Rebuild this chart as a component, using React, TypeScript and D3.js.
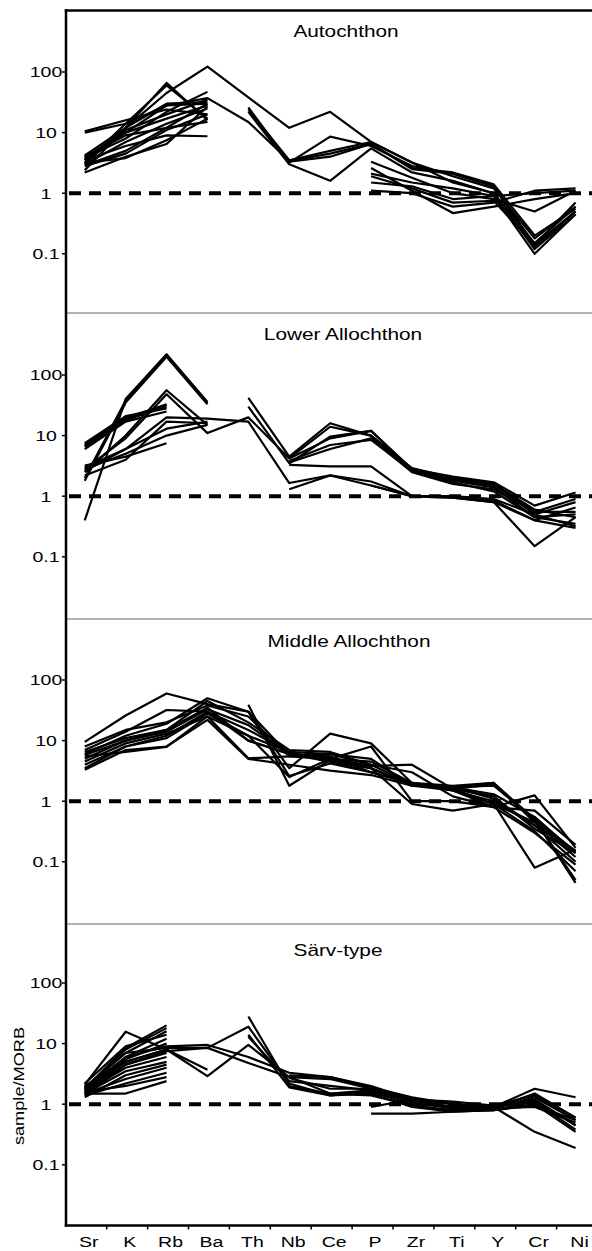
import React from 'react';
import * as d3 from 'd3';

// element order on the x axis
const elements = ['Sr', 'K', 'Rb', 'Ba', 'Th', 'Nb', 'Ce', 'P', 'Zr', 'Ti', 'Y', 'Cr', 'Ni'];
const yTickValues = [0.1, 1, 10, 100];
const yTickLabels = ['0.1', '1', '10', '100'];
const panelTitles = ['Autochthon', 'Lower Allochthon', 'Middle Allochthon', 'Särv-type'];
const yAxisTitle = 'sample/MORB';

const _ = null;

// sample/MORB values, one row per sample (null = not plotted)
const autochthon: (number | null)[][] = [
  [2.4, 12, 66, 16, _, _, _, _, _, _, _, _, _],
  [3.2, 14, 60, 17, _, _, _, _, _, _, _, _, _],
  [10, 14, 28, 30, _, _, _, _, _, _, _, _, _],
  [10.5, 16, 24, 20, _, _, _, _, _, _, _, _, _],
  [3.8, 8, 22, 47, _, _, _, _, _, _, _, _, _],
  [3.5, 10, 17, 28, _, _, _, _, _, _, _, _, _],
  [3.0, 7, 14, 25, _, _, _, _, _, _, _, _, _],
  [4.0, 9, 12, 30, _, _, _, _, _, _, _, _, _],
  [3.2, 3.8, 7.5, 17, _, _, _, _, _, _, _, _, _],
  [3.5, 6, 9, 8.7, _, _, _, _, _, _, _, _, _],
  [2.8, 4.5, 11, 20, _, _, _, _, _, _, _, _, _],
  [3.6, 11, 20, 35, _, _, _, _, _, _, _, _, _],
  [4.2, 12, 30, 32, _, _, _, _, _, _, _, _, _],
  [2.9, 5, 12, 15, _, _, _, _, _, _, _, _, _],
  [2.2, 4, 6.5, 27, _, _, _, _, _, _, _, _, _],
  [3, 12, 45, 123, 38, 12, 22, 7, 3.2, 1.5, 1.0, 0.15, 0.6],
  [4, 10, 28, 37, 15, 3.4, 4.5, 6.5, 2.5, 2.1, 1.3, 0.14, 0.5],
  [_, _, _, _, 26, 3.2, 8.6, 6, 2.8, 2.1, 1.3, 0.13, 0.5],
  [_, _, _, _, 22, 3.0, 1.6, 5.5, 2.2, 1.6, 1.0, 0.12, 0.45],
  [_, _, _, _, 24, 3.5, 5, 7, 3.2, 1.9, 1.2, 0.18, 0.6],
  [_, _, _, _, _, 3.3, 4, 6.5, 2.6, 2.2, 1.4, 0.2, 0.55],
  [_, _, _, _, _, _, _, 3.3, 1.8, 1.0, 0.8, 0.5, 1.1],
  [_, _, _, _, _, _, _, 2.1, 1.5, 1.2, 0.9, 1.0, 1.1],
  [_, _, _, _, _, _, _, 1.9, 1.2, 0.7, 0.75, 0.14, 0.7],
  [_, _, _, _, _, _, _, 1.1, 1.0, 0.6, 0.7, 1.1, 1.2],
  [_, _, _, _, _, _, _, 2.6, 1.1, 0.47, 0.6, 0.8, 1.0],
  [_, _, _, _, _, _, _, 1.5, 1.3, 0.8, 0.9, 0.1, 0.45],
];

const lowerAllochthon: (number | null)[][] = [
  [0.4, 40, 220, 36, _, _, _, _, _, _, _, _, _],
  [2.0, 38, 210, 34, _, _, _, _, _, _, _, _, _],
  [1.8, 35, 200, 33, _, _, _, _, _, _, _, _, _],
  [6.5, 18, 30, _, _, _, _, _, _, _, _, _, _],
  [7.0, 20, 32, _, _, _, _, _, _, _, _, _, _],
  [7.5, 21, 28, _, _, _, _, _, _, _, _, _, _],
  [6.0, 17, 25, _, _, _, _, _, _, _, _, _, _],
  [6.8, 19, 33, _, _, _, _, _, _, _, _, _, _],
  [2.5, 10, 56, 15, _, _, _, _, _, _, _, _, _],
  [2.8, 9, 48, 11, 20, 4.2, 9, 12, 2.8, 2.0, 1.6, 0.6, 0.45],
  [3.0, 6, 20, 19, 17, 1.65, 2.2, 1.5, 1.0, 1.0, 0.85, 0.4, 0.3],
  [3.2, 4.5, 7.5, _, _, _, _, _, _, _, _, _, _],
  [2.8, 5, 10, 15, _, _, _, _, _, _, _, _, _],
  [2.6, 6, 13, 17, _, _, _, _, _, _, _, _, _],
  [2.2, 4, 17, 16, _, _, _, _, _, _, _, _, _],
  [_, _, _, _, 42, 4.5, 16, 10, 2.9, 2.0, 1.6, 0.5, 0.8],
  [_, _, _, _, 30, 3.5, 9.6, 12, 2.7, 1.9, 1.5, 0.55, 0.55],
  [_, _, _, _, _, 3.8, 7, 8.5, 2.6, 1.8, 1.4, 0.45, 0.35],
  [_, _, _, _, _, 3.3, 3.1, 3.1, 1.0, 1.0, 0.9, 0.5, 0.32],
  [_, _, _, _, _, 1.3, 2.2, 1.75, 1.0, 0.95, 0.8, 0.15, 0.45],
  [_, _, _, _, _, 4.2, 14, 10, 2.8, 2.1, 1.7, 0.7, 1.15],
  [_, _, _, _, _, 3.6, 6, 9, 2.5, 1.6, 1.3, 0.55, 0.9],
  [_, _, _, _, _, _, _, 1.5, 1.0, 0.95, 0.8, 0.4, 0.65],
  [_, _, _, _, _, _, _, 9, 2.6, 1.7, 1.2, 0.45, 0.5],
];

const middleAllochthon: (number | null)[][] = [
  [9.5, 26, 60, 40, 30, 3.5, 13, 9, 2, 1.6, 1.9, 0.5, 0.15],
  [7, 14, 32, 30, 10, 6, 5, 4.5, 2, 1.8, 2, 0.45, 0.15],
  [6, 12, 19, 50, 30, 5.8, 5.5, 3, 1.9, 1.6, 1.2, 0.35, 0.14],
  [5, 10, 15, 35, 10, 6, 4.5, 3, 2, 1.5, 0.8, 0.3, 0.09],
  [4.5, 9, 13, 25, 5.1, 5.5, 6, 5, 1.8, 1.7, 1.1, 0.4, 0.15],
  [4, 8, 12, 30, 15, 6.5, 4.5, 3.5, 0.9, 0.7, 0.9, 0.45, 0.12],
  [3.3, 7, 8, 22, 5, 4, 3.2, 2.7, 1.8, 1.5, 0.9, 0.32, 0.07],
  [3.5, 8, 11, 28, 12, 6.5, 6, 4, 3, 1.2, 0.8, 1.25, 0.17],
  [5.5, 6.5, 7.9, 25, 12, 2.5, 5, 8, 1.0, 1.0, 0.8, 0.7, 0.19],
  [6.5, 11, 15, 45, 20, 7, 6.5, 4, 1.9, 1.7, 2, 0.5, 0.05],
  [8, 15, 20, 38, 25, 5.5, 5, 3.5, 1.8, 1.7, 1.8, 0.5, 0.045],
  [5.8, 10, 14, 33, 18, 6, 5.2, 3.8, 4, 1.6, 0.9, 0.08, 0.16],
  [_, _, _, _, 39, 1.8, 4.8, 3.5, 1.9, 1.7, 1.3, 0.55, 0.14],
  [_, _, _, _, 30, 2.6, 4.2, 3, 2, 1.5, 1, 0.4, 0.1],
];

const sarvType: (number | null)[][] = [
  [2.1, 15.7, 8, 3.7, _, _, _, _, _, _, _, _, _],
  [1.8, 8.5, 20, _, _, _, _, _, _, _, _, _, _],
  [1.7, 8, 18, _, _, _, _, _, _, _, _, _, _],
  [1.9, 7, 16, _, _, _, _, _, _, _, _, _, _],
  [1.6, 6, 12, _, _, _, _, _, _, _, _, _, _],
  [1.5, 5.5, 10, _, _, _, _, _, _, _, _, _, _],
  [1.7, 5, 8, _, _, _, _, _, _, _, _, _, _],
  [1.4, 4.5, 7, _, _, _, _, _, _, _, _, _, _],
  [1.6, 4, 6, _, _, _, _, _, _, _, _, _, _],
  [1.5, 3.5, 5, _, _, _, _, _, _, _, _, _, _],
  [1.3, 3, 4.5, _, _, _, _, _, _, _, _, _, _],
  [1.5, 2.6, 4, _, _, _, _, _, _, _, _, _, _],
  [1.4, 2.2, 3.3, _, _, _, _, _, _, _, _, _, _],
  [1.6, 2.0, 2.8, _, _, _, _, _, _, _, _, _, _],
  [1.5, 1.5, 2.4, _, _, _, _, _, _, _, _, _, _],
  [2.2, 9, 14, _, _, _, _, _, _, _, _, _, _],
  [1.8, 6, 9, 9.5, 6, 3.3, 2.8, 2.0, 1.2, 1.0, 0.9, 1.8, 1.3],
  [1.9, 7, 8.5, 8.5, 19, 2.2, 1.4, 1.6, 1.0, 0.9, 0.85, 1.5, 0.6],
  [2.0, 5, 8, 2.9, 9.5, 2.8, 2.6, 1.8, 1.1, 0.85, 0.9, 1.2, 0.45],
  [1.7, 4.5, 7.5, 8.5, 4.8, 2.8, 1.5, 1.7, 1.1, 0.9, 0.85, 1.3, 0.55],
  [_, _, _, _, 28, 2.0, 1.5, 1.4, 0.95, 0.8, 0.8, 1.1, 0.38],
  [_, _, _, _, 14, 1.9, 1.4, 1.5, 0.9, 0.75, 0.8, 0.95, 0.55],
  [_, _, _, _, 13, 2.4, 2.0, 1.7, 1.1, 0.85, 0.9, 0.35, 0.19],
  [_, _, _, _, _, _, _, 0.7, 0.7, 0.75, 0.8, 1.0, 0.35],
  [_, _, _, _, _, _, _, 0.9, 1.2, 0.9, 0.85, 0.9, 0.5],
  [_, _, _, _, _, 2.7, 1.8, 1.8, 1.2, 1.1, 0.95, 1.4, 0.6],
  [_, _, _, _, _, 3.0, 2.8, 1.9, 1.3, 1.0, 0.9, 1.15, 0.45],
];

const panelData = [autochthon, lowerAllochthon, middleAllochthon, sarvType];

// layout
const width = 592;
const height = 1251;
const axisX = 66;
const panelTops = [11.4, 314.4, 619.4, 922.4];
const panelH = 303;
const separatorsY = [313, 619, 924];
const bottomY = 1225.5;
const titleX = [346, 343, 349, 338];
const titleY = [37, 340, 647, 956];
const font = '"Liberation Sans", Arial, Helvetica, sans-serif';
const SX = 1.3; // the original lettering is horizontally stretched

const x = d3.scaleBand<string>().domain(elements).range([65.8, 65.8 + 13 * 40.9]).paddingInner(0);
const cx = (e: string) => (x(e) as number) + x.bandwidth() / 2 - 1.5;

const App = () => {
  return (
    <div style={{ position: 'absolute', left: 0, top: 0 }}>
      <svg width={width} height={height} style={{ display: 'block', background: '#fff' }} fontFamily={font}>
        <rect width={width} height={height} fill="#fff" />
        {panelData.map((rows, p) => {
          const top = panelTops[p];
          const y = d3.scaleLog().domain([0.01, 1000]).range([top + panelH, top]);
          const lineFn = d3
            .line<number | null>()
            .defined((d) => d != null)
            .x((_d, i) => cx(elements[i]))
            .y((d) => y(d as number));
          return (
            <g key={p}>
              {/* y ticks */}
              {yTickValues.map((v, i) => (
                <g key={v}>
                  <line x1={axisX - 4} x2={axisX} y1={y(v)} y2={y(v)} stroke="#000" strokeWidth={1.5} />
                  <text
                    transform={`translate(46,${y(v)}) scale(${SX},1)`}
                    textAnchor="middle"
                    dy="0.36em"
                    fontSize={15}
                    fill="#000"
                  >
                    {yTickLabels[i]}
                  </text>
                </g>
              ))}
              {/* reference line at 1 */}
              <line
                x1={axisX + 3}
                x2={width}
                y1={y(1)}
                y2={y(1)}
                stroke="#000"
                strokeWidth={4}
                strokeDasharray="12 8"
              />
              {rows.map((r, i) => (
                <path key={i} d={lineFn(r) || ''} fill="none" stroke="#000" strokeWidth={2.2} strokeLinejoin="round" />
              ))}
              <text
                transform={`translate(${titleX[p]},${titleY[p]}) scale(${SX},1)`}
                textAnchor="middle"
                fontSize={16}
                fill="#000"
              >
                {panelTitles[p]}
              </text>
            </g>
          );
        })}

        {separatorsY.map((sy) => (
          <line key={sy} x1={axisX} x2={width} y1={sy} y2={sy} stroke="#666" strokeWidth={1.2} />
        ))}

        {/* frame */}
        <line x1={axisX - 1.2} x2={width} y1={10.5} y2={10.5} stroke="#000" strokeWidth={2.5} />
        <line x1={axisX} x2={axisX} y1={9.3} y2={bottomY + 1.2} stroke="#000" strokeWidth={2.5} />
        <line x1={axisX - 1.2} x2={width} y1={bottomY} y2={bottomY} stroke="#000" strokeWidth={2.5} />

        {/* x ticks between categories */}
        {elements.slice(1).map((e) => (
          <line key={e} x1={x(e)} x2={x(e)} y1={bottomY} y2={bottomY + 4} stroke="#000" strokeWidth={1.5} />
        ))}
        {elements.map((e) => (
          <text
            key={e}
            transform={`translate(${cx(e) + 4},1247) scale(${SX},1)`}
            textAnchor="middle"
            fontSize={15}
            fill="#000"
          >
            {e}
          </text>
        ))}

        <text
          transform={`translate(24,1086) rotate(-90) scale(${SX},1)`}
          textAnchor="middle"
          fontSize={14}
          fill="#000"
        >
          {yAxisTitle}
        </text>
      </svg>
    </div>
  );
};

export default App;
